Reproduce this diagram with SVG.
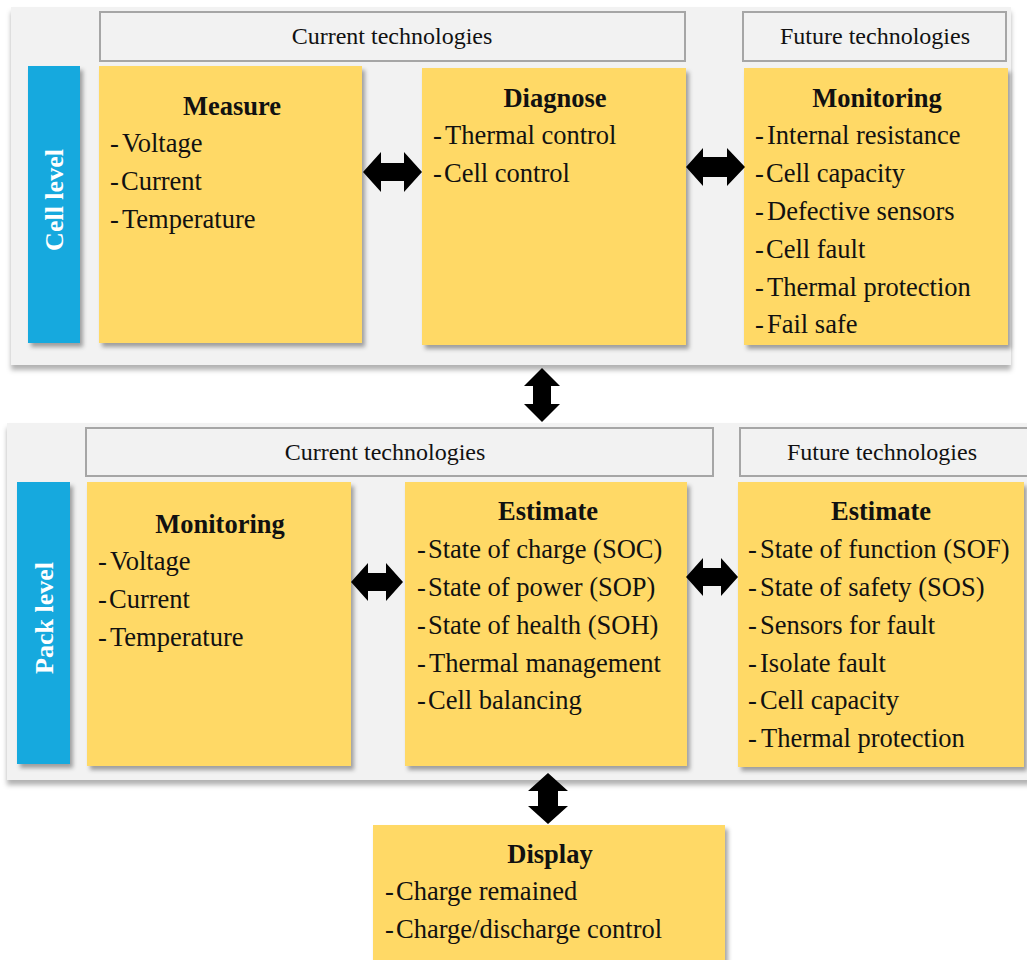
<svg xmlns="http://www.w3.org/2000/svg" width="1027" height="960" viewBox="0 0 1027 960">
  <defs>
    <filter id="shadow" x="-10%" y="-10%" width="125%" height="125%">
      <feDropShadow dx="3" dy="4" stdDeviation="2" flood-color="#000" flood-opacity="0.35"/>
    </filter>
    <filter id="panelShadow" x="-5%" y="-5%" width="110%" height="115%">
      <feDropShadow dx="0" dy="5" stdDeviation="2.5" flood-color="#000" flood-opacity="0.3"/>
    </filter>
    <style>
      .panel { fill: #f2f2f2; filter: url(#panelShadow); }
      .header { fill: #f2f2f2; stroke: #a6a6a6; stroke-width: 2; }
      .htext { font-family: "Liberation Serif", "Times New Roman", serif; font-size: 24px; fill: #111; text-anchor: middle; }
      .box { fill: #ffd966; filter: url(#shadow); }
      .bar { fill: #12a9de; filter: url(#shadow); }
      .bartext { font-family: "Liberation Serif", "Times New Roman", serif; font-size: 26px; font-weight: bold; fill: #fff; text-anchor: middle; }
      .title { font-family: "Liberation Serif", "Times New Roman", serif; font-size: 26.5px; font-weight: bold; fill: #111; text-anchor: middle; }
      .item { font-family: "Liberation Serif", "Times New Roman", serif; font-size: 26.5px; fill: #111; }
      .arrow { fill: #000; }
    </style>
  </defs>

  <rect width="1027" height="960" fill="#fff"/>

  <!-- Cell level panel -->
  <g id="cell-panel">
    <rect class="panel" x="11" y="7" width="1000" height="358"/>
    <rect class="header" x="100" y="12" width="585" height="49"/>
    <text class="htext" x="392" y="44">Current technologies</text>
    <rect class="header" x="743" y="12" width="263" height="49"/>
    <text class="htext" x="875" y="44">Future technologies</text>
  </g>

  <g id="cell-level">
    <rect class="bar" x="28" y="66" width="52" height="277"/>
    <text class="bartext" transform="translate(63,200) rotate(-90)">Cell level</text>
  </g>

  <g id="measure">
    <rect class="box" x="99" y="66" width="263" height="277"/>
    <text class="title" x="232" y="115">Measure</text>
    <text class="item" y="152"><tspan x="110">-</tspan><tspan x="122">Voltage</tspan></text>
    <text class="item" y="190"><tspan x="110">-</tspan><tspan x="121">Current</tspan></text>
    <text class="item" y="228"><tspan x="110">-</tspan><tspan x="122">Temperature</tspan></text>
  </g>

  <g id="diagnose">
    <rect class="box" x="422" y="68" width="264" height="277"/>
    <text class="title" x="555" y="107">Diagnose</text>
    <text class="item" y="144"><tspan x="433">-</tspan><tspan x="445">Thermal control</tspan></text>
    <text class="item" y="182"><tspan x="433">-</tspan><tspan x="444">Cell control</tspan></text>
  </g>

  <g id="cell-monitoring">
    <rect class="box" x="744" y="68" width="264" height="277"/>
    <text class="title" x="877" y="107">Monitoring</text>
    <text class="item" y="144"><tspan x="755">-</tspan><tspan x="767">Internal resistance</tspan></text>
    <text class="item" y="182"><tspan x="755">-</tspan><tspan x="766">Cell capacity</tspan></text>
    <text class="item" y="220"><tspan x="755">-</tspan><tspan x="767">Defective sensors</tspan></text>
    <text class="item" y="258"><tspan x="755">-</tspan><tspan x="766">Cell fault</tspan></text>
    <text class="item" y="296"><tspan x="755">-</tspan><tspan x="767">Thermal protection</tspan></text>
    <text class="item" y="333"><tspan x="755">-</tspan><tspan x="767">Fail safe</tspan></text>
  </g>

  <!-- Pack level panel -->
  <g id="pack-panel">
    <rect class="panel" x="7" y="423" width="1025" height="357"/>
    <rect class="header" x="86" y="428" width="627" height="48"/>
    <text class="htext" x="385" y="460">Current technologies</text>
    <rect class="header" x="740" y="428" width="295" height="48"/>
    <text class="htext" x="882" y="460">Future technologies</text>
  </g>

  <g id="pack-level">
    <rect class="bar" x="17" y="482" width="53" height="282"/>
    <text class="bartext" transform="translate(53,618) rotate(-90)">Pack level</text>
  </g>

  <g id="pack-monitoring">
    <rect class="box" x="87" y="482" width="264" height="284"/>
    <text class="title" x="220" y="533">Monitoring</text>
    <text class="item" y="570"><tspan x="98">-</tspan><tspan x="110">Voltage</tspan></text>
    <text class="item" y="608"><tspan x="98">-</tspan><tspan x="109">Current</tspan></text>
    <text class="item" y="646"><tspan x="98">-</tspan><tspan x="110">Temperature</tspan></text>
  </g>

  <g id="estimate-current">
    <rect class="box" x="405" y="482" width="282" height="284"/>
    <text class="title" x="548" y="520">Estimate</text>
    <text class="item" y="558"><tspan x="417">-</tspan><tspan x="428">State of charge (SOC)</tspan></text>
    <text class="item" y="596"><tspan x="417">-</tspan><tspan x="428">State of power (SOP)</tspan></text>
    <text class="item" y="634"><tspan x="417">-</tspan><tspan x="428">State of health (SOH)</tspan></text>
    <text class="item" y="672"><tspan x="417">-</tspan><tspan x="429">Thermal management</tspan></text>
    <text class="item" y="709"><tspan x="417">-</tspan><tspan x="428">Cell balancing</tspan></text>
  </g>

  <g id="estimate-future">
    <rect class="box" x="738" y="482" width="286" height="285"/>
    <text class="title" x="881" y="520">Estimate</text>
    <text class="item" y="558"><tspan x="748">-</tspan><tspan x="760">State of function (SOF)</tspan></text>
    <text class="item" y="596"><tspan x="748">-</tspan><tspan x="760">State of safety (SOS)</tspan></text>
    <text class="item" y="634"><tspan x="748">-</tspan><tspan x="760">Sensors for fault</tspan></text>
    <text class="item" y="672"><tspan x="748">-</tspan><tspan x="760">Isolate fault</tspan></text>
    <text class="item" y="709"><tspan x="748">-</tspan><tspan x="760">Cell capacity</tspan></text>
    <text class="item" y="747"><tspan x="748">-</tspan><tspan x="761">Thermal protection</tspan></text>
  </g>

  <g id="display">
    <rect class="box" x="373" y="825" width="352" height="140"/>
    <text class="title" x="550" y="863">Display</text>
    <text class="item" y="900"><tspan x="385">-</tspan><tspan x="396">Charge remained</tspan></text>
    <text class="item" y="938"><tspan x="385">-</tspan><tspan x="396">Charge/discharge control</tspan></text>
  </g>

  <!-- Block double arrows -->
  <g id="connectors">
    <polygon class="arrow" points="363,172 381,152 381,163 404,163 404,152 422,172 404,192 404,181 381,181 381,192"/>
    <polygon class="arrow" points="686,167 703,148 703,157 727,157 727,148 745,167 727,186 727,177 703,177 703,186"/>
    <polygon class="arrow" points="542,368 560,386 551,386 551,404 560,404 542,422 524,404 533,404 533,386 524,386"/>
    <polygon class="arrow" points="351,582 368,563 368,573 386,573 386,563 403,582 386,601 386,591 368,591 368,601"/>
    <polygon class="arrow" points="686,577 703,558 703,568 721,568 721,558 738,577 721,596 721,586 703,586 703,596"/>
    <polygon class="arrow" points="548,773 568,791 558,791 558,806 568,806 548,824 528,806 538,806 538,791 528,791"/>
  </g>
</svg>
